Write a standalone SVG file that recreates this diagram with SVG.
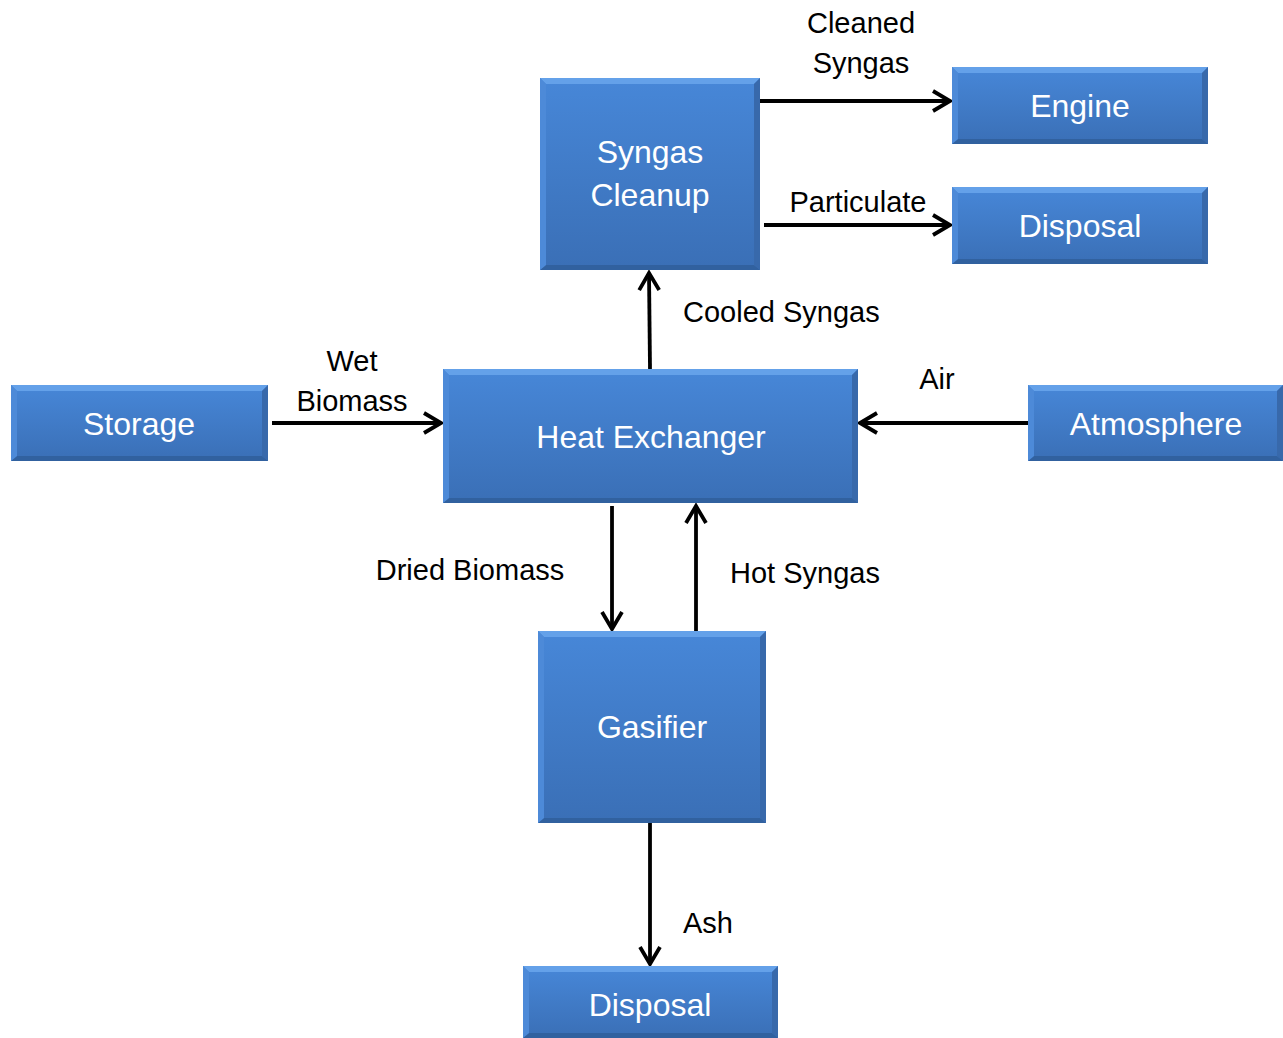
<svg xmlns="http://www.w3.org/2000/svg" width="1283" height="1038" viewBox="0 0 1283 1038">
<style>
.body{fill:url(#g);}
.bt{fill:#6aa6ec;opacity:0.85;}
.bb{fill:#31619f;}
.bl{fill:#4d8ad8;}
.br{fill:#3869ab;}
.nt{font-family:"Liberation Sans",Arial,sans-serif;font-size:32px;fill:#ffffff;text-anchor:middle;}
.lb{font-family:"Liberation Sans",Arial,sans-serif;font-size:29px;fill:#000000;text-anchor:middle;}
.c{stroke:#000;stroke-width:3.8;fill:none;}
</style>
<defs>
<linearGradient id="g" x1="0" y1="0" x2="0" y2="1">
<stop offset="0" stop-color="#4787d8"/>
<stop offset="1" stop-color="#3a6fb6"/>
</linearGradient>
<marker id="a" viewBox="0 0 24 24" refX="20" refY="12" markerWidth="24" markerHeight="24" markerUnits="userSpaceOnUse" orient="auto">
<path d="M3,2 L20,12 L3,22" fill="none" stroke="#000" stroke-width="3.8"/>
</marker>
</defs>

<g id="connectors">
<line class="c" x1="757" y1="101" x2="950" y2="101" marker-end="url(#a)"/>
<line class="c" x1="764" y1="225" x2="950" y2="225" marker-end="url(#a)"/>
<line class="c" x1="650" y1="369" x2="649" y2="273" marker-end="url(#a)"/>
<line class="c" x1="272" y1="423" x2="441" y2="423" marker-end="url(#a)"/>
<line class="c" x1="1028" y1="423" x2="860" y2="423" marker-end="url(#a)"/>
<line class="c" x1="612" y1="506" x2="612" y2="629" marker-end="url(#a)"/>
<line class="c" x1="696" y1="631" x2="696" y2="506" marker-end="url(#a)"/>
<line class="c" x1="650" y1="823" x2="650" y2="964" marker-end="url(#a)"/>
</g>

<g id="labels">
<text class="lb" x="861" y="33">Cleaned</text>
<text class="lb" x="861" y="73">Syngas</text>
<text class="lb" x="858" y="212">Particulate</text>
<text class="lb" x="683" y="322" style="text-anchor:start">Cooled Syngas</text>
<text class="lb" x="352" y="371">Wet</text>
<text class="lb" x="352" y="411">Biomass</text>
<text class="lb" x="937" y="389">Air</text>
<text class="lb" x="470" y="580">Dried Biomass</text>
<text class="lb" x="805" y="583">Hot Syngas</text>
<text class="lb" x="708" y="933">Ash</text>
</g>

<g id="cleanup">
<rect class="body" x="540" y="78" width="220" height="192"/>
<polygon class="bt" points="540,78 760,78 754,84 546,84"/>
<polygon class="bb" points="540,270 760,270 754,265 546,265"/>
<polygon class="bl" points="540,78 546,84 546,265 540,270"/>
<polygon class="br" points="760,78 754,84 754,265 760,270"/>
<text class="nt" x="650" y="163">Syngas</text>
<text class="nt" x="650" y="206">Cleanup</text>
</g>

<g id="engine">
<rect class="body" x="952" y="67" width="256" height="77"/>
<polygon class="bt" points="952,67 1208,67 1202,73 958,73"/>
<polygon class="bb" points="952,144 1208,144 1202,139 958,139"/>
<polygon class="bl" points="952,67 958,73 958,139 952,144"/>
<polygon class="br" points="1208,67 1202,73 1202,139 1208,144"/>
<text class="nt" x="1080" y="117">Engine</text>
</g>

<g id="disposal1">
<rect class="body" x="952" y="187" width="256" height="77"/>
<polygon class="bt" points="952,187 1208,187 1202,193 958,193"/>
<polygon class="bb" points="952,264 1208,264 1202,259 958,259"/>
<polygon class="bl" points="952,187 958,193 958,259 952,264"/>
<polygon class="br" points="1208,187 1202,193 1202,259 1208,264"/>
<text class="nt" x="1080" y="237">Disposal</text>
</g>

<g id="storage">
<rect class="body" x="11" y="385" width="257" height="76"/>
<polygon class="bt" points="11,385 268,385 262,391 17,391"/>
<polygon class="bb" points="11,461 268,461 262,456 17,456"/>
<polygon class="bl" points="11,385 17,391 17,456 11,461"/>
<polygon class="br" points="268,385 262,391 262,456 268,461"/>
<text class="nt" x="139" y="435">Storage</text>
</g>

<g id="heatexchanger">
<rect class="body" x="443" y="369" width="415" height="134"/>
<polygon class="bt" points="443,369 858,369 852,375 449,375"/>
<polygon class="bb" points="443,503 858,503 852,498 449,498"/>
<polygon class="bl" points="443,369 449,375 449,498 443,503"/>
<polygon class="br" points="858,369 852,375 852,498 858,503"/>
<text class="nt" x="651" y="448">Heat Exchanger</text>
</g>

<g id="atmosphere">
<rect class="body" x="1028" y="385" width="255" height="76"/>
<polygon class="bt" points="1028,385 1283,385 1277,391 1034,391"/>
<polygon class="bb" points="1028,461 1283,461 1277,456 1034,456"/>
<polygon class="bl" points="1028,385 1034,391 1034,456 1028,461"/>
<polygon class="br" points="1283,385 1277,391 1277,456 1283,461"/>
<text class="nt" x="1156" y="435">Atmosphere</text>
</g>

<g id="gasifier">
<rect class="body" x="538" y="631" width="228" height="192"/>
<polygon class="bt" points="538,631 766,631 760,637 544,637"/>
<polygon class="bb" points="538,823 766,823 760,818 544,818"/>
<polygon class="bl" points="538,631 544,637 544,818 538,823"/>
<polygon class="br" points="766,631 760,637 760,818 766,823"/>
<text class="nt" x="652" y="738">Gasifier</text>
</g>

<g id="disposal2">
<rect class="body" x="523" y="966" width="255" height="72"/>
<polygon class="bt" points="523,966 778,966 772,972 529,972"/>
<polygon class="bb" points="523,1038 778,1038 772,1033 529,1033"/>
<polygon class="bl" points="523,966 529,972 529,1033 523,1038"/>
<polygon class="br" points="778,966 772,972 772,1033 778,1038"/>
<text class="nt" x="650" y="1016">Disposal</text>
</g>
</svg>
